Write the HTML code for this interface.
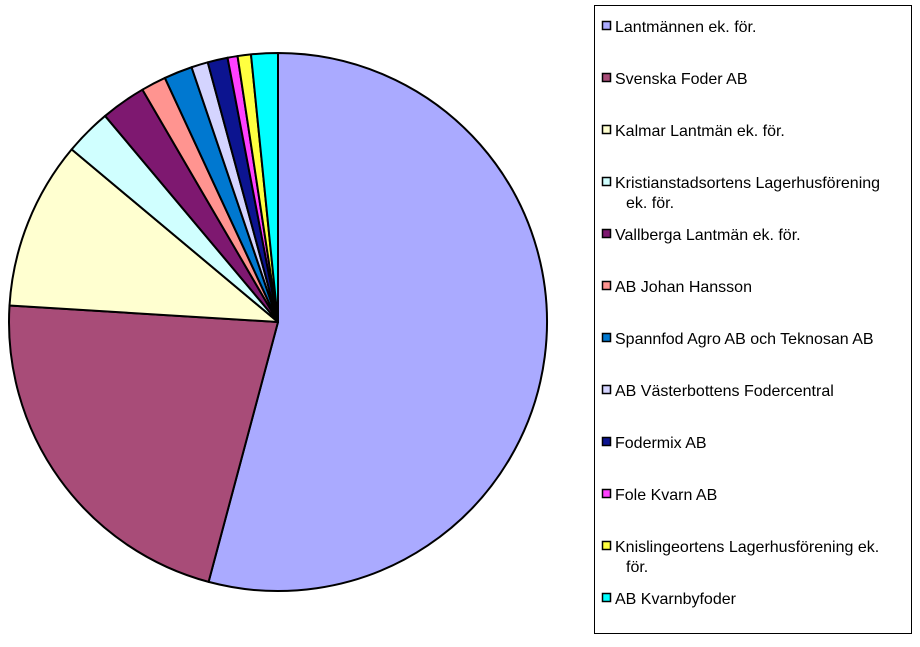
<!DOCTYPE html>
<html><head><meta charset="utf-8"><style>
body{margin:0;background:#fff;width:920px;height:642px;overflow:hidden;font-family:"Liberation Sans",sans-serif}
</style></head><body>
<svg width="920" height="642">
<g id="pie"></g>
<rect x="594.5" y="5.5" width="317" height="628" fill="#fff" stroke="#000" stroke-width="1"/>
<g id="legend"></g>
</svg>
<script>
const labels=["Lantmännen ek. för.","Svenska Foder AB","Kalmar Lantmän ek. för.","Kristianstadsortens Lagerhusförening|ek. för.","Vallberga Lantmän ek. för.","AB Johan Hansson","Spannfod Agro AB och Teknosan AB","AB Västerbottens Fodercentral","Fodermix AB","Fole Kvarn AB","Knislingeortens Lagerhusförening ek.|för.","AB Kvarnbyfoder"];
const values=[54.1,21.8,10.1,2.8,2.7,1.5,1.7,1.0,1.2,0.6,0.8,1.6];
const colors=["#aaaaff","#a84c78","#ffffd0","#d0ffff","#7e1870","#ff9490","#0078d0","#d4d4ff","#0c1490","#ff40ff","#ffff40","#00ffff"];
const NS="http://www.w3.org/2000/svg";
const cx=278,cy=322,r=269;
const total=values.reduce((a,b)=>a+b,0);
const pie=document.getElementById('pie');
let a0=0;
function pt(a){return [cx+r*Math.sin(a),cy-r*Math.cos(a)];}
values.forEach((v,i)=>{
  const a1=a0+v/total*2*Math.PI;
  const p0=pt(a0),p1=pt(a1);
  const large=(a1-a0)>Math.PI?1:0;
  const p=document.createElementNS(NS,'path');
  p.setAttribute('d',`M${cx},${cy}L${p0[0]},${p0[1]}A${r},${r} 0 ${large} 1 ${p1[0]},${p1[1]}Z`);
  p.setAttribute('fill',colors[i]);p.setAttribute('stroke','#000');p.setAttribute('stroke-width','2');p.setAttribute('stroke-linejoin','round');
  
  
  pie.appendChild(p);
  a0=a1;
});
const lg=document.getElementById('legend');
labels.forEach((t,i)=>{
  const y=26+i*52;
  const g=document.createElementNS(NS,'g');
  
  
  const s=document.createElementNS(NS,'rect');
  s.setAttribute('x',602.5);s.setAttribute('y',y-4.5);s.setAttribute('width',8);s.setAttribute('height',8);
  s.setAttribute('fill',colors[i]);s.setAttribute('stroke','#000');s.setAttribute('stroke-width','1.5');
  g.appendChild(s);
  t.split('|').forEach((line,k)=>{
    const tx=document.createElementNS(NS,'text');
    tx.setAttribute('x',k?626:615);tx.setAttribute('y',y+6+k*20);
    tx.setAttribute('font-size','16');tx.setAttribute('fill','#000');
    tx.textContent=line;g.appendChild(tx);
  });
  lg.appendChild(g);
});
</script>
</body></html>
